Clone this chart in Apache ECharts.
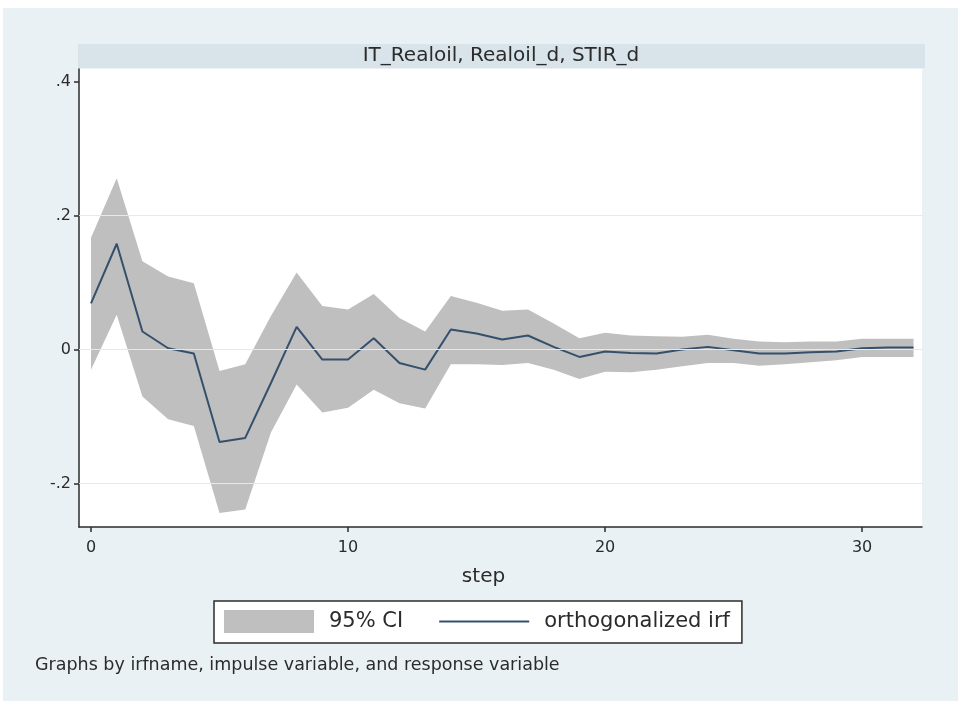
<!DOCTYPE html>
<html>
<head>
<meta charset="utf-8">
<title>IRF: IT_Realoil, Realoil_d, STIR_d</title>
<script src="https://cdn.jsdelivr.net/npm/echarts@6/dist/echarts.min.js"></script>
<style>
  html, body { margin: 0; padding: 0; background: #ffffff; }
  #chart { position: absolute; left: 3px; top: 8px; width: 955px; height: 693px; }
</style>
</head>
<body>
<div id="chart"></div>
<script>
// impulse response, steps 0..32
const steps = [0, 1, 2, 3, 4, 5, 6, 7, 8, 9, 10, 11, 12, 13, 14, 15, 16,
  17, 18, 19, 20, 21, 22, 23, 24, 25, 26, 27, 28, 29, 30, 31, 32]
const irf = [0.069, 0.158, 0.027, 0.002, -0.006, -0.138, -0.132, -0.050, 0.034, -0.015, -0.015,
  0.017, -0.020, -0.030, 0.030, 0.024, 0.015, 0.021, 0.004, -0.011, -0.003,
  -0.005, -0.006, 0.000, 0.004, -0.001, -0.006, -0.006, -0.004, -0.003, 0.002, 0.003, 0.003]
const ciUpper = [0.167, 0.256, 0.132, 0.109, 0.099, -0.032, -0.022, 0.050, 0.115, 0.065, 0.060,
  0.083, 0.047, 0.027, 0.080, 0.070, 0.058, 0.060, 0.039, 0.017, 0.025,
  0.021, 0.020, 0.019, 0.022, 0.016, 0.012, 0.011, 0.012, 0.012, 0.016, 0.016, 0.016]
const ciLower = [-0.030, 0.052, -0.070, -0.104, -0.114, -0.244, -0.239, -0.124, -0.052, -0.094, -0.087,
  -0.060, -0.080, -0.088, -0.022, -0.022, -0.023, -0.020, -0.030, -0.044, -0.033,
  -0.034, -0.030, -0.025, -0.020, -0.020, -0.024, -0.022, -0.019, -0.016, -0.011, -0.011, -0.011]

const xTickValues = [0, 10, 20, 30]
const yTickValues = [-0.2, 0, 0.2, 0.4]
const yTickLabels = ['-.2', '0', '.2', '.4']
const yGridValues = [-0.2, 0, 0.2]

const panelTitle = 'IT_Realoil, Realoil_d, STIR_d'
const footnote = 'Graphs by irfname, impulse variable, and response variable'

const font = '"DejaVu Sans", Verdana, sans-serif'
const ink = '#2b2b2b'
const bandColor = '#bfbfbf'
const lineColor = '#34506c'

const chart = echarts.init(document.getElementById('chart'))

const bandRows = steps.map((s, i) => [s, ciLower[i], ciUpper[i]])
const irfPts = steps.map((s, i) => [s, irf[i]])

// whole CI band as one polygon: upper edge left->right, lower edge back
function renderBand(params, api) {
  if (params.dataIndex !== 0) return null
  const top = bandRows.map((r) => api.coord([r[0], r[2]]))
  const bottom = bandRows.map((r) => api.coord([r[0], r[1]])).reverse()
  return {
    type: 'polygon',
    shape: { points: top.concat(bottom) },
    style: { fill: bandColor },
  }
}

const axisLineStyle = { color: ink, width: 1.5 }

chart.setOption({
  animation: false,
  backgroundColor: '#eaf1f4',
  textStyle: { fontFamily: font },
  title: [
    {
      text: panelTitle,
      left: 498,
      top: 37,
      textAlign: 'center',
      padding: 0,
      textStyle: { fontFamily: font, fontSize: 20, fontWeight: 'normal', color: ink, lineHeight: 22 },
    },
    {
      text: footnote,
      left: 32,
      top: 647,
      padding: 0,
      textStyle: { fontFamily: font, fontSize: 17.5, fontWeight: 'normal', color: ink, lineHeight: 20 },
    },
  ],
  graphic: [
    {
      type: 'rect',
      left: 75,
      top: 36,
      silent: true,
      z: -1,
      shape: { width: 847, height: 24 },
      style: { fill: '#d8e4ea' },
    },
  ],
  legend: {
    left: 211,
    top: 593,
    orient: 'horizontal',
    selectedMode: false,
    padding: [9, 12, 10, 10],
    itemGap: 36,
    itemWidth: 90,
    itemHeight: 23,
    backgroundColor: '#ffffff',
    borderColor: ink,
    borderWidth: 1.5,
    borderRadius: 0,
    textStyle: { fontFamily: font, fontSize: 21, color: ink, padding: [0, 0, 0, 10] },
    data: [
      { name: '95% CI', icon: 'rect', itemStyle: { color: bandColor, borderWidth: 0 } },
      {
        name: 'orthogonalized irf',
        icon: 'path://M0,0H90V2H0Z',
        itemStyle: { color: lineColor, borderWidth: 0 },
      },
    ],
  },
  grid: {
    left: 76,
    right: 36,
    top: 61,
    bottom: 174,
    show: true,
    backgroundColor: '#ffffff',
    borderWidth: 0,
    containLabel: false,
  },
  xAxis: {
    type: 'value',
    min: -0.467,
    max: 32.33,
    name: 'step',
    nameLocation: 'middle',
    nameGap: 40,
    nameTextStyle: { fontFamily: font, fontSize: 20, color: ink, padding: [0, 34, 0, 0] },
    axisLine: { show: true, onZero: false, lineStyle: axisLineStyle },
    axisTick: { show: true, length: 5, customValues: xTickValues, lineStyle: axisLineStyle },
    axisLabel: { customValues: xTickValues, fontFamily: font, fontSize: 16, color: ink, margin: 13 },
    splitLine: { show: false },
  },
  yAxis: {
    type: 'value',
    min: -0.265,
    max: 0.419,
    axisLine: { show: true, onZero: false, lineStyle: axisLineStyle },
    axisTick: { show: true, length: 5, customValues: yTickValues, lineStyle: axisLineStyle },
    axisLabel: {
      customValues: yTickValues,
      fontFamily: font,
      fontSize: 16,
      color: ink,
      margin: 8,
      formatter: (v) => {
        const i = yTickValues.findIndex((t) => Math.abs(t - v) < 1e-9)
        return i >= 0 ? yTickLabels[i] : ''
      },
    },
    splitLine: { show: false },
  },
  series: [
    {
      name: 'gridlines',
      type: 'line',
      data: [],
      z: 0,
      markLine: {
        silent: true,
        symbol: 'none',
        label: { show: false },
        lineStyle: { color: '#e3eaed', width: 1, type: 'solid' },
        data: yGridValues.map((v) => ({ yAxis: v })),
      },
    },
    {
      name: '95% CI',
      type: 'custom',
      data: bandRows,
      encode: { x: 0, y: [1, 2] },
      renderItem: renderBand,
      itemStyle: { color: bandColor },
      clip: true,
      z: 1,
    },
    {
      name: 'orthogonalized irf',
      type: 'line',
      data: irfPts,
      symbol: 'none',
      showSymbol: false,
      lineStyle: { color: lineColor, width: 2 },
      itemStyle: { color: lineColor },
      z: 3,
    },
  ],
})
</script>
</body>
</html>
